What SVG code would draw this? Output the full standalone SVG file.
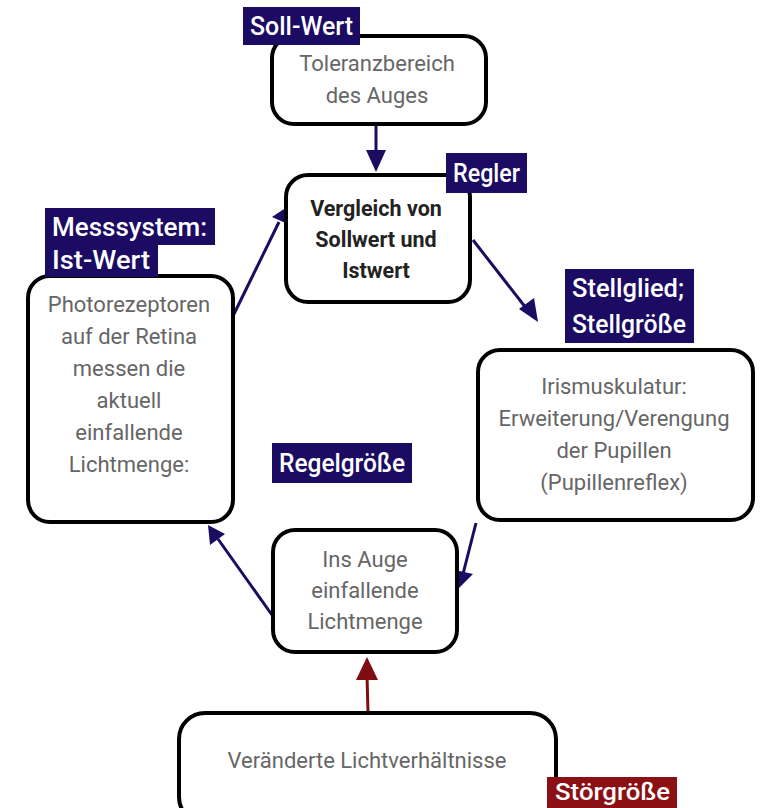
<svg xmlns="http://www.w3.org/2000/svg" width="768" height="808" viewBox="0 0 768 808">
<defs>
<style>
.box{fill:#fff;stroke:#000;stroke-width:4}
.t{font-family:Roboto,"Liberation Sans",sans-serif;font-size:22px;fill:#666;text-anchor:middle}
.tb{font-family:Roboto,"Liberation Sans",sans-serif;font-size:21.5px;font-weight:bold;fill:#222;text-anchor:middle}
.lab{fill:#1b0b63}
.labr{fill:#8b1014}
.lt{font-family:Roboto,"Liberation Sans",sans-serif;font-size:26px;font-weight:500;fill:#fff}
.c{stroke:#1b0b63;stroke-width:3;fill:none}
.cr{stroke:#7e0c10;stroke-width:3;fill:none}
.h{fill:#1b0b63}
.hr{fill:#7e0c10}
</style>
</defs>
<rect width="768" height="808" fill="#fff"/>
<g id="connectors">
<line class="c" x1="376" y1="124" x2="376" y2="155"/>
<path class="h" d="M366,150 L386,150 L376,172 z"/>
<line class="c" x1="473" y1="240" x2="526" y2="308"/>
<path class="h" d="M519,309 L534,298 L538,322 z"/>
<line class="c" x1="233" y1="316" x2="279" y2="222"/>
<path class="h" d="M272,217 L290,225 L287,207 z"/>
<line class="c" x1="476" y1="523" x2="463" y2="574"/>
<path class="h" d="M455,570 L473,574 L457,590 z"/>
<line class="c" x1="272" y1="615" x2="218" y2="539"/>
<path class="h" d="M210,545 L225,534 L208,525 z"/>
<line class="cr" x1="368" y1="712" x2="367" y2="676"/>
<path class="hr" d="M356,680 L378,680 L367,657 z"/>
</g>
<g id="soll">
<rect class="box" x="272" y="36" width="214" height="88" rx="22"/>
<text class="t" x="377" y="71">Toleranzbereich</text>
<text class="t" x="377" y="103">des Auges</text>
</g>
<g id="soll-label">
<rect class="lab" x="243" y="7" width="117" height="38"/>
<text class="lt" x="250" y="35" textLength="103" lengthAdjust="spacingAndGlyphs">Soll-Wert</text>
</g>
<g id="regler">
<rect class="box" x="286" y="175" width="184" height="127" rx="22"/>
<text class="tb" x="376" y="216">Vergleich von</text>
<text class="tb" x="376" y="247">Sollwert und</text>
<text class="tb" x="376" y="278">Istwert</text>
</g>
<g id="regler-label">
<rect class="lab" x="446" y="153" width="81" height="40"/>
<text class="lt" x="453" y="182" textLength="67" lengthAdjust="spacingAndGlyphs">Regler</text>
</g>
<g id="stellglied">
<rect class="box" x="478" y="350" width="275" height="170" rx="22"/>
<text class="t" x="614" y="394">Irismuskulatur:</text>
<text class="t" x="614" y="426">Erweiterung/Verengung</text>
<text class="t" x="614" y="458">der Pupillen</text>
<text class="t" x="614" y="490">(Pupillenreflex)</text>
</g>
<g id="stellglied-label">
<rect class="lab" x="565" y="269" width="129" height="74"/>
<text class="lt" x="572" y="297" textLength="112" lengthAdjust="spacingAndGlyphs">Stellglied;</text>
<text class="lt" x="572" y="333" textLength="114" lengthAdjust="spacingAndGlyphs">Stellgröße</text>
</g>
<g id="messsystem">
<rect class="box" x="28" y="276" width="205" height="246" rx="22"/>
<text class="t" x="129" y="312">Photorezeptoren</text>
<text class="t" x="129" y="344">auf der Retina</text>
<text class="t" x="129" y="376">messen die</text>
<text class="t" x="129" y="408">aktuell</text>
<text class="t" x="129" y="440">einfallende</text>
<text class="t" x="129" y="472">Lichtmenge:</text>
</g>
<g id="messsystem-label">
<rect class="lab" x="45" y="208" width="170" height="37"/>
<rect class="lab" x="45" y="244" width="113" height="33"/>
<text class="lt" x="52" y="236" textLength="155" lengthAdjust="spacingAndGlyphs">Messsystem:</text>
<text class="lt" x="52" y="269" textLength="98" lengthAdjust="spacingAndGlyphs">Ist-Wert</text>
</g>
<g id="regelgroesse-label">
<rect class="lab" x="272" y="443" width="140" height="40"/>
<text class="lt" x="279" y="472" textLength="126" lengthAdjust="spacingAndGlyphs">Regelgröße</text>
</g>
<g id="lichtmenge">
<rect class="box" x="273" y="530" width="184" height="122" rx="22"/>
<text class="t" x="365" y="567">Ins Auge</text>
<text class="t" x="365" y="598">einfallende</text>
<text class="t" x="365" y="629">Lichtmenge</text>
</g>
<g id="stoer">
<rect class="box" x="179" y="713" width="377" height="110" rx="26"/>
<text class="t" x="367" y="768">Veränderte Lichtverhältnisse</text>
</g>
<g id="stoer-label">
<rect class="labr" x="547" y="777" width="130" height="31"/>
<text class="lt" x="555" y="800" style="font-size:23px" textLength="115" lengthAdjust="spacingAndGlyphs">Störgröße</text>
</g>
</svg>
